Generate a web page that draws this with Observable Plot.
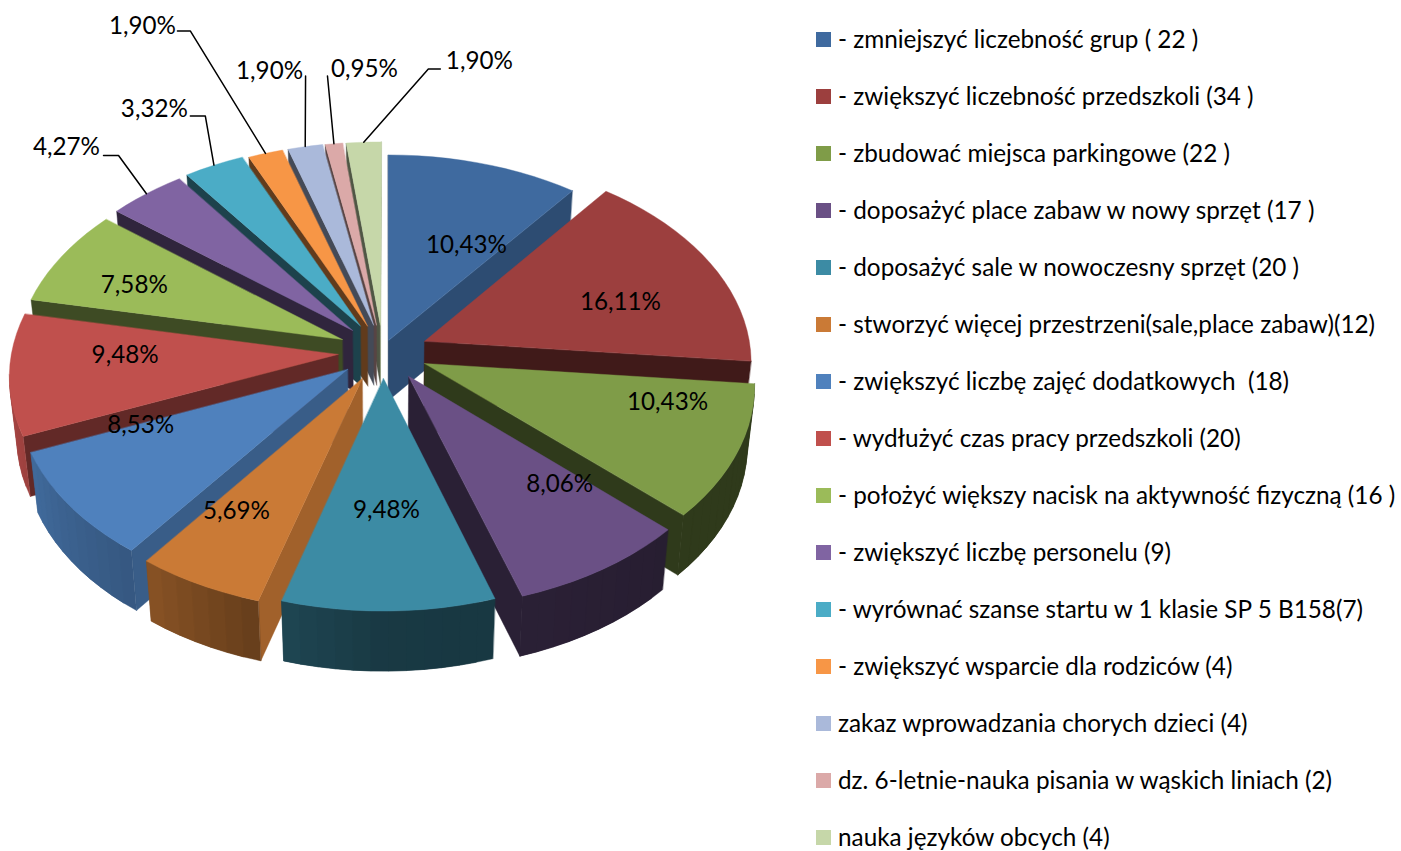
<!DOCTYPE html>
<html lang="pl">
<head>
<meta charset="utf-8">
<script src="https://cdn.jsdelivr.net/npm/d3@7"></script>
<script src="https://cdn.jsdelivr.net/npm/@observablehq/plot@0.6"></script>
<style>
html,body{margin:0;padding:0;background:#fff;}
#wrap{position:relative;width:1401px;height:851px;overflow:hidden;}
#chart{position:absolute;left:0;top:0;}
#legend{position:absolute;left:816px;top:11px;font:24.3px Lato,sans-serif;color:#000;}
.row{height:57px;display:flex;align-items:center;white-space:pre;}
.row span:last-child{position:relative;top:-1px;}
.sw{width:15px;height:15px;margin-right:7px;flex:none;}
</style>
</head>
<body>
<div id="wrap"><div id="chart"></div><div id="legend"></div></div>
<script>
// ---- data
const names = [
  "- zmniejszyć liczebność grup ( 22 )",
  "- zwiększyć liczebność przedszkoli (34 )",
  "- zbudować miejsca parkingowe (22 )",
  "- doposażyć place zabaw w nowy sprzęt (17 )",
  "- doposażyć sale w nowoczesny sprzęt (20 )",
  "- stworzyć więcej przestrzeni(sale,place zabaw)(12)",
  "- zwiększyć liczbę zajęć dodatkowych  (18)",
  "- wydłużyć czas pracy przedszkoli (20)",
  "- położyć większy nacisk na aktywność fizyczną (16 )",
  "- zwiększyć liczbę personelu (9)",
  "- wyrównać szanse startu w 1 klasie SP 5 B158(7)",
  "- zwiększyć wsparcie dla rodziców (4)",
  "zakaz wprowadzania chorych dzieci (4)",
  "dz. 6-letnie-nauka pisania w wąskich liniach (2)",
  "nauka języków obcych (4)"
];
const percents = [10.43,16.11,10.43,8.06,9.48,5.69,8.53,9.48,7.58,4.27,3.32,1.90,1.90,0.95,1.90];
const colors = ["#3F6A9F","#9C3F3E","#7F9C48","#6A5085","#3C8BA4","#CA7A36","#4F81BD","#C0504D","#9BBB59","#8064A2","#4BACC6","#F79646","#AAB9DA","#DBA9A8","#C6D7A9"];
// how far each slice is pulled out of the pie, in pie radii
const explodeX = [.009,.120,.119,.070,-.006,-.070,-.115,-.145,-.133,-.102,-.078,-.056,-.037,-.028,-.016];
const explodeY = [.073,.070,-.0385,-.100,-.110,-.110,-.067,.005,.078,.123,.145,.145,.150,.150,.150];
// label offsets from each slice's tip
const labelDX = [78,196,243,151,3,-126,-207,-213,-208,-286,-206,-225,-104,-12,99];
const labelDY = [-95,-39,39,108,132,133,56,1,-54,-183,-217,-300,-254,-256,-264];
// leader stubs, relative to the label (null = label sits on the slice)
const leaders = [null,null,null,null,null,null,null,null,null,
  [[37,8],[52,8]],[[36,7],[51,7]],[[35,5],[48,5]],[[36,5]],[[-37,7]],[[-39,8],[-51,8]]];
const paintOrder = [0,14,13,12,11,10,9,8,7,6,5,1,2,3,4];

// ---- projection parameters
const cx=385, cy=355, A=327, B=206, k=.095, depth=60, shrink=.98;
const rad = a => a*Math.PI/180;
const project = (X,Y) => { const w=1+k*Y; return [cx+A*X/w, cy-B*Y/w]; };
const below = ([x,y]) => [cx+(x-cx)*shrink, y+depth];

// wall shading as a factor on the slice colour
const radialShade = d3.scaleLinear().domain([106,127,157,185,223,252]).range([.8,.72,.51,.41,.37,.40]).clamp(true);
const arcShade = d3.scaleLinear().domain([95,133,162,180,196,217,247,281]).range([.37,.37,.40,.41,.5,.68,.82,.9]).clamp(true);
const shade = (c,f) => { const o=d3.rgb(c); return d3.rgb(o.r*f,o.g*f,o.b*f).formatHex(); };

let cum = 0;
const slices = percents.map((p,i) => {
  const a0 = cum/100*360; cum += p; const a1 = cum/100*360;
  const pt = a => project(explodeX[i]+Math.sin(rad(a)), explodeY[i]+Math.cos(rad(a)));
  const apex = project(explodeX[i],explodeY[i]);
  const n = Math.max(2,Math.ceil((a1-a0)/3));
  const arc = d3.range(n+1).map(j => { const a=a0+(a1-a0)*j/n; return {a,p:pt(a)}; });
  return {i,p,a0,a1,apex,arc,mid:pt((a0+a1)/2)};
});

const faces = []; let id = 0;
const addFace = (pts,color) => { id++; pts.forEach(([x,y]) => faces.push({x,y,id,color})); };
const wall = (p,q,color) => { if (q[0] < p[0]) addFace([p,q,below(q),below(p)],color); };
// an arc wall strip: overlaps the next strip so no seam shows between them
const strip = (pts,color) => {
  if (pts[pts.length-1][0] < pts[0][0]) addFace([...pts,...pts.slice().reverse().map(below)],color);
};

for (const i of paintOrder) {
  const s = slices[i], c = colors[i], arc = s.arc;
  wall(s.apex, arc[0].p, shade(c,radialShade((s.a0-90+360)%360)));
  for (let j=0;j<arc.length-1;j++) {
    const m=(arc[j].a+arc[j+1].a)/2;
    strip(arc.slice(j,j+3).map(d=>d.p), shade(c,arcShade(m)));
  }
  wall(arc[arc.length-1].p, s.apex, shade(c,radialShade((s.a1+90)%360)));
  addFace([s.apex,...arc.map(d=>d.p)],c);
}

const labels = slices.map(s => ({
  x:s.apex[0]+labelDX[s.i], y:s.apex[1]+labelDY[s.i],
  t:percents[s.i].toFixed(2).replace(".",",")+"%"
}));
const leaderPts = [];
slices.forEach(s => {
  const L = leaders[s.i]; if (!L) return;
  const l = labels[s.i];
  L.forEach(([dx,dy]) => leaderPts.push({x:l.x+dx,y:l.y+dy,id:s.i}));
  leaderPts.push({x:s.mid[0],y:s.mid[1],id:s.i});
});

const plot = Plot.plot({
  width:800, height:851, margin:0,
  x:{domain:[0,800],range:[0,800],axis:null},
  y:{domain:[0,851],range:[0,851],axis:null},
  color:{type:"identity"},
  marks:[
    Plot.line(faces,{x:"x",y:"y",z:"id",fill:"color",stroke:"color",strokeWidth:.4,curve:"linear-closed"}),
    Plot.line(leaderPts,{x:"x",y:"y",z:"id",stroke:"#000",strokeWidth:1.5}),
    Plot.text(labels,{x:"x",y:"y",text:"t",fontSize:24.2,fontFamily:"Lato, sans-serif",fill:"#000"})
  ]
});
document.getElementById("chart").append(plot);

const legend = document.getElementById("legend");
names.forEach((n,i) => {
  const r=document.createElement("div"); r.className="row";
  const sw=document.createElement("span"); sw.className="sw"; sw.style.background=colors[i];
  const t=document.createElement("span"); t.textContent=n;
  r.append(sw,t); legend.append(r);
});
</script>
</body>
</html>
